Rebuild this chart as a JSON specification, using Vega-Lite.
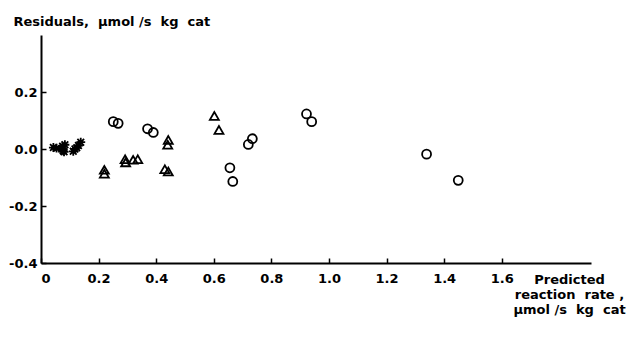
{
  "$schema": "https://vega.github.io/schema/vega-lite/v6.json",
  "width": 550,
  "height": 228,
  "autosize": {"type": "none"},
  "padding": {"left": 41, "top": 35, "right": 50, "bottom": 74},
  "background": "white",
  "config": {
    "view": {"stroke": null},
    "font": "DejaVu Sans",
    "axis": {
      "grid": false,
      "domainColor": "black",
      "domainWidth": 2,
      "tickColor": "black",
      "tickWidth": 1.5,
      "labelColor": "black",
      "titleColor": "black",
      "labelFont": "DejaVu Sans",
      "titleFont": "DejaVu Sans",
      "labelFontWeight": "bold",
      "titleFontWeight": "bold",
      "labelFontSize": 13,
      "titleFontSize": 13
    }
  },
  "data": {
    "values": [
      {"x": 0.043, "y": 0.005, "s": "star"},
      {"x": 0.054, "y": 0.003, "s": "star"},
      {"x": 0.072, "y": 0.0, "s": "star"},
      {"x": 0.077, "y": -0.006, "s": "star"},
      {"x": 0.083, "y": 0.015, "s": "star"},
      {"x": 0.08, "y": -0.01, "s": "star"},
      {"x": 0.075, "y": 0.01, "s": "star"},
      {"x": 0.112, "y": -0.008, "s": "star"},
      {"x": 0.118, "y": 0.0, "s": "star"},
      {"x": 0.124, "y": 0.004, "s": "star"},
      {"x": 0.13, "y": 0.012, "s": "star"},
      {"x": 0.138, "y": 0.024, "s": "star"},
      {"x": 0.22, "y": -0.073, "s": "triangle"},
      {"x": 0.22, "y": -0.087, "s": "triangle"},
      {"x": 0.292, "y": -0.036, "s": "triangle"},
      {"x": 0.294, "y": -0.047, "s": "triangle"},
      {"x": 0.32, "y": -0.038, "s": "triangle"},
      {"x": 0.336, "y": -0.036, "s": "triangle"},
      {"x": 0.43, "y": -0.071, "s": "triangle"},
      {"x": 0.442, "y": -0.079, "s": "triangle"},
      {"x": 0.442, "y": 0.032, "s": "triangle"},
      {"x": 0.44, "y": 0.015, "s": "triangle"},
      {"x": 0.602, "y": 0.116, "s": "triangle"},
      {"x": 0.618, "y": 0.067, "s": "triangle"},
      {"x": 0.251, "y": 0.096, "s": "circle"},
      {"x": 0.268, "y": 0.09, "s": "circle"},
      {"x": 0.37, "y": 0.071, "s": "circle"},
      {"x": 0.39, "y": 0.058, "s": "circle"},
      {"x": 0.656, "y": -0.066, "s": "circle"},
      {"x": 0.666, "y": -0.114, "s": "circle"},
      {"x": 0.72, "y": 0.016, "s": "circle"},
      {"x": 0.734, "y": 0.036, "s": "circle"},
      {"x": 0.922, "y": 0.123, "s": "circle"},
      {"x": 0.94, "y": 0.096, "s": "circle"},
      {"x": 1.339, "y": -0.018, "s": "circle"},
      {"x": 1.449, "y": -0.11, "s": "circle"}
    ]
  },
  "mark": {"type": "point", "filled": false, "stroke": "black", "strokeWidth": 1.8, "size": 80, "opacity": 1},
  "encoding": {
    "x": {
      "field": "x",
      "type": "quantitative",
      "scale": {"domain": [0, 1.91], "nice": false, "zero": false},
      "axis": {
        "values": [0, 0.2, 0.4, 0.6, 0.8, 1.0, 1.2, 1.4, 1.6],
        "labelExpr": "datum.value == 0 ? '0' : format(datum.value, '.1f')",
        "tickSize": -5,
        "labelPadding": 14,
        "title": ["Predicted", "reaction\u00a0\u00a0rate\u00a0,", "µmol\u00a0/s\u00a0\u00a0kg\u00a0\u00a0cat"],
        "titleAlign": "center",
        "titleX": 528,
        "titleY": 20,
        "titleLineHeight": 15,
        "titleBaseline": "alphabetic"
      }
    },
    "y": {
      "field": "y",
      "type": "quantitative",
      "scale": {"domain": [-0.4, 0.4], "nice": false, "zero": false},
      "axis": {
        "values": [-0.4, -0.2, 0, 0.2],
        "labelExpr": "datum.value < 0 ? '-' + format(-datum.value, '.1f') : format(datum.value, '.1f')",
        "tickSize": -5,
        "labelPadding": 9,
        "title": "Residuals,\u00a0\u00a0µmol\u00a0/s\u00a0\u00a0kg\u00a0\u00a0cat",
        "titleAngle": 0,
        "titleAlign": "left",
        "titleBaseline": "alphabetic",
        "titleX": -28,
        "titleY": -10
      }
    },
    "shape": {
      "field": "s",
      "type": "nominal",
      "scale": {
        "domain": ["circle", "triangle", "star"],
        "range": ["circle", "triangle-up", "M-1,0L1,0M0,-1L0,1M-0.75,-0.75L0.75,0.75M-0.75,0.75L0.75,-0.75"]
      },
      "legend": null
    }
  }
}
